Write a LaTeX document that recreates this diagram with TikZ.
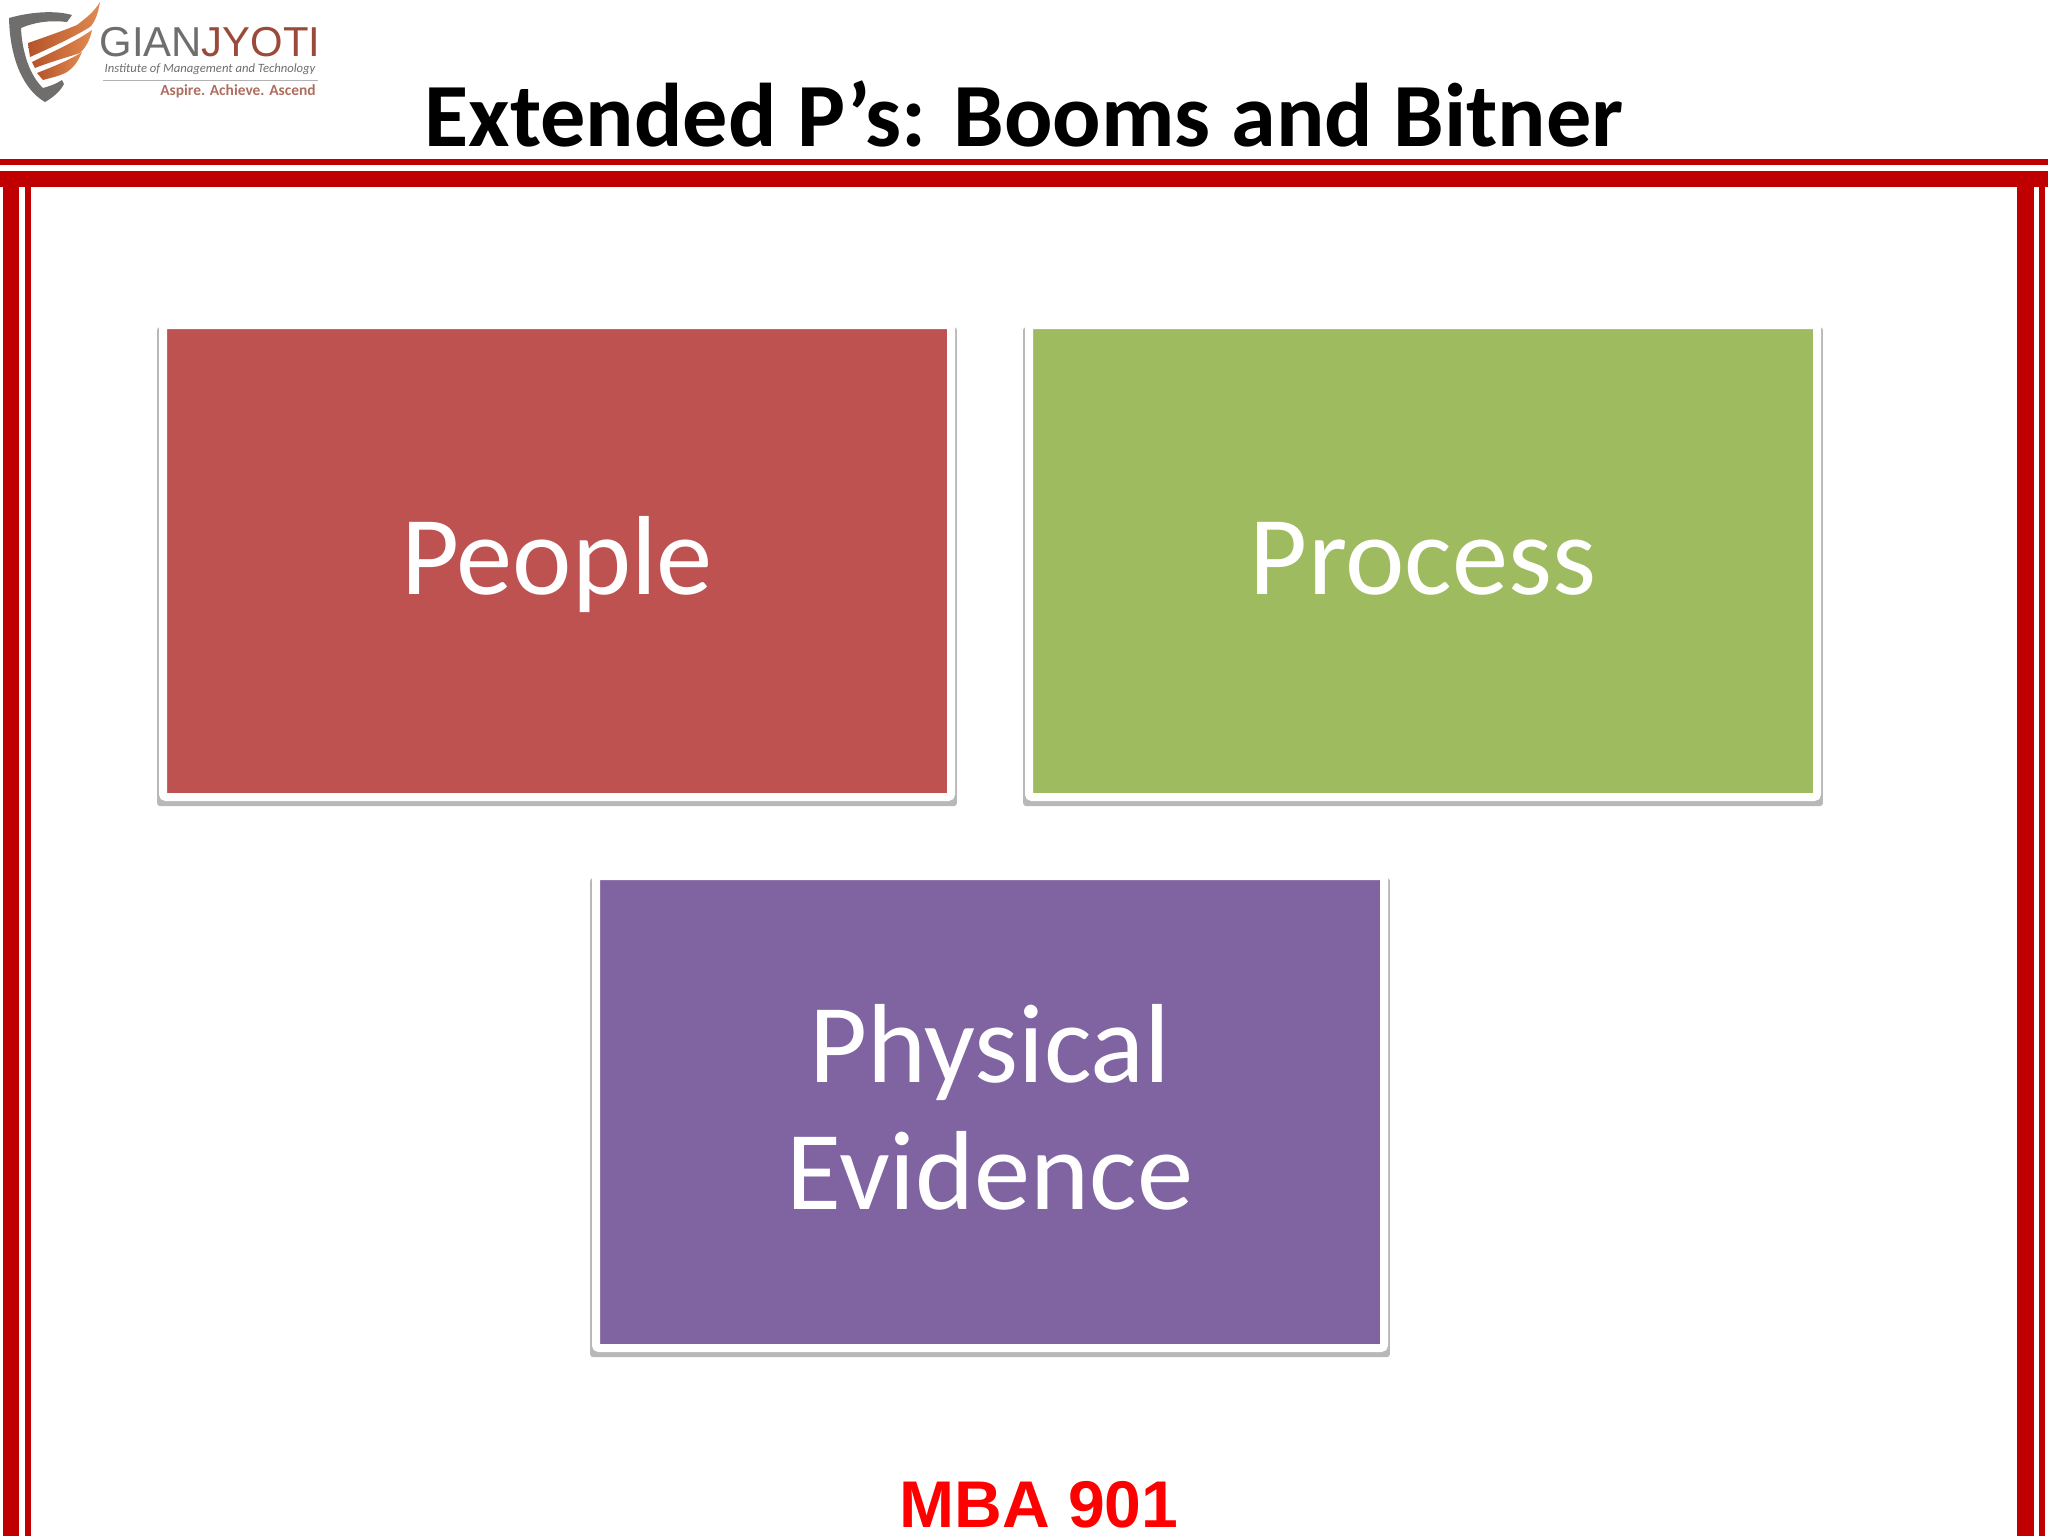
\documentclass[tikz,border=0pt]{standalone}
\usepackage{fontspec}
\setmainfont{Carlito}
\newfontfamily\arialfont{Liberation Sans}
\usetikzlibrary{shadows}
\definecolor{frameRed}{HTML}{C00000}
\definecolor{peopleRed}{HTML}{BE5250}
\definecolor{processGreen}{HTML}{9FBB60}
\definecolor{evidencePurple}{HTML}{8064A2}
\definecolor{logoGray}{HTML}{6F6E6C}
\definecolor{logoBrown}{HTML}{9A4A38}
\definecolor{logoOrange}{HTML}{E08A50}
\definecolor{logoRust}{HTML}{B5542A}
\begin{document}
\begin{tikzpicture}
[x=0.1mm,y=-0.1mm,%
  barDecorate/.style={fill=frameRed,draw=none},%
  boxDecorate/.style={shape=rectangle,draw=white,line width=0.8mm,rounded corners=0.3mm,
    minimum width=7.88cm,minimum height=4.72cm,align=center,text=white,
    text depth=0.3em,font=\fontsize{32}{36}\selectfont,
    drop shadow={shadow scale=1.015,shadow xshift=0mm,shadow yshift=-0.55mm,fill=black!28,opacity=1}},%
  wingDecorate/.style={left color=logoRust,right color=logoOrange,draw=none}]
\useasboundingbox (0,0) rectangle (2048,1536);
\fill[white] (0,0) rectangle (2048,1536);
%% frame bars
\foreach \xa/\ya/\xb/\yb in {0/159/2048/165, 0/171/2048/187, 3/187/19/1536, 25/187/31/1536, 2017/187/2034/1536, 2039/187/2045/1536}
{
  \path[barDecorate] (\xa,\ya) rectangle (\xb,\yb);
}
%% logo
\fill[logoGray] (9,18) .. controls (30,12) and (55,10) .. (72,15) -- (67,22) .. controls (50,20) and (35,22) .. (21,28) .. controls (22,52) and (30,76) .. (43,88) .. controls (50,86) and (56,84) .. (62,80) -- (64,84) .. controls (60,92) and (52,98) .. (45,102) .. controls (24,90) and (10,60) .. (9,18) -- cycle;
\path[wingDecorate] (28,43) .. controls (48,36) and (65,30) .. (77,25) .. controls (86,18) and (94,12) .. (100,2) .. controls (98,14) and (95,22) .. (90,27) .. controls (72,38) and (50,48) .. (30,57) -- cycle;
\path[wingDecorate] (32,62) .. controls (52,52) and (75,42) .. (92,30) .. controls (90,40) and (86,47) .. (80,53) .. controls (65,58) and (50,62) .. (35,68) -- cycle;
\path[wingDecorate] (37,73) .. controls (52,67) and (68,61) .. (82,52) .. controls (78,62) and (73,68) .. (67,72) .. controls (60,76) and (50,78) .. (43,80) -- cycle;
\node (logoname) at (210,42) [inner sep=0pt,font=\arialfont\fontsize{11.9}{13}\selectfont] {\textcolor{logoGray}{GIAN}\textcolor{logoBrown}{JYOTI}};
\node (logotag) at (210,69) [inner sep=0pt,text=logoGray,font=\fontsize{3.6}{4}\itshape\selectfont] {Institute of Management and Technology};
\draw[black!30,line width=0.1mm] (103,80) -- (318,80);
\node (logomotto) at (238,91) [inner sep=0pt,text=logoBrown!80,font=\fontsize{4.4}{5}\bfseries\selectfont] {Aspire. Achieve. Ascend};
%% title and footer
\node (title) at (1024,146) [anchor=base,inner sep=0pt,font=\bfseries\fontsize{25.7}{28}\selectfont] {Extended P’s: Booms and Bitner};
\node (footer) at (1039,1527) [anchor=base,inner sep=0pt,text=red,font=\arialfont\bfseries\fontsize{18.8}{21}\selectfont] {MBA 901};
%% boxes
\foreach \nodename/\x/\y/\boxcolor/\boxtext in {people/557/561/peopleRed/People, process/1423/561/processGreen/{Process\vphantom{l}}, evidence/990/1112/evidencePurple/{Physical\\Evidence}}
{
  \node (\nodename) at (\x,\y) [boxDecorate,fill=\boxcolor] {\boxtext};
}
\end{tikzpicture}
\end{document}
